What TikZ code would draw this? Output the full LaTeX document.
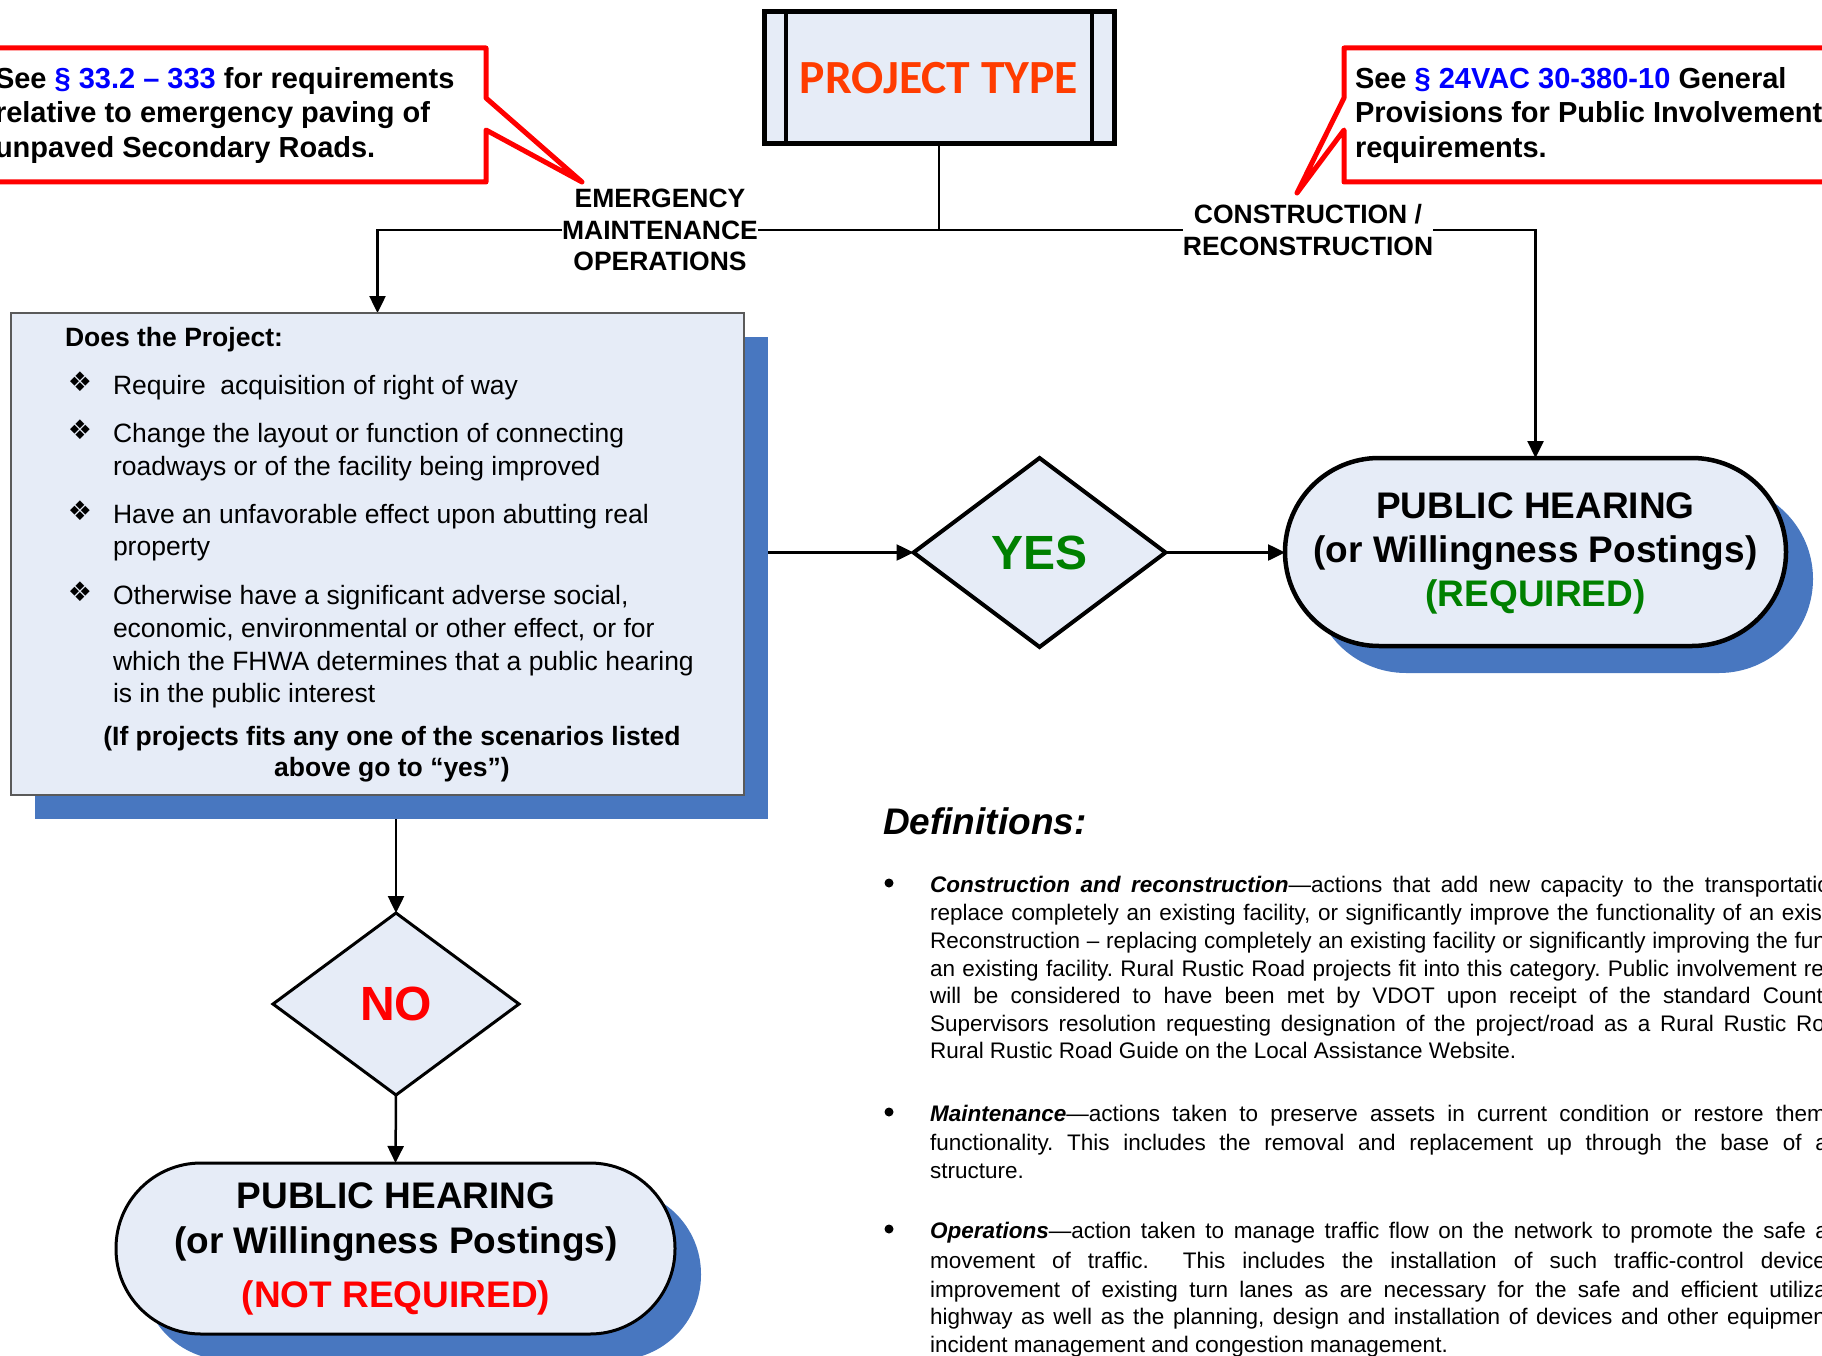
\documentclass[tikz,border=0pt]{standalone}
\usepackage{fontspec}
\setmainfont{Liberation Sans}
\newfontfamily\calib{Carlito}
\newfontfamily\djv{DejaVu Sans}
\usetikzlibrary{shapes.geometric,arrows.meta,shadows,backgrounds}
\definecolor{lblue}{RGB}{230,236,247}
\definecolor{shadowblue}{RGB}{72,119,192}
\definecolor{calred}{RGB}{255,0,0}
\definecolor{linkblue}{RGB}{0,0,255}
\definecolor{yesgreen}{RGB}{0,128,0}
\definecolor{nored}{RGB}{255,0,0}
\definecolor{ptred}{RGB}{255,60,0}
\definecolor{boxgray}{RGB}{90,90,90}
\newcommand{\myjust}[2]{\makebox[#1][s]{#2}}
\frenchspacing
\begin{document}
\frenchspacing
\begin{tikzpicture}[x=1pt,y=-1pt,
  every node/.style={inner sep=0pt,outer sep=0pt},
  boxtxt/.style={anchor=base west,font=\fontsize{26.5}{31.5}\selectfont},
  bullt/.style={anchor=center,font=\djv\fontsize{27}{30}\selectfont},
  deftxt/.style={anchor=base west,font=\fontsize{22.5}{27.5}\selectfont},
  defbul/.style={fill=black,circle,minimum size=9pt},
  callt/.style={anchor=base west,font=\bfseries\fontsize{29}{34}\selectfont},
  bigt/.style={anchor=base,font=\bfseries\fontsize{37}{44}\selectfont},
  lbl/.style={fill=white,align=center,font=\bfseries\fontsize{26.5}{31.5}\selectfont},
  conn/.style={line width=2.5pt,draw=black},
  arr/.style={conn,-{Triangle[length=17pt,width=16pt]}},
  callout/.style={draw=calred,line width=5pt,fill=white,line join=round},
  dia/.style={diamond,draw,fill=lblue,font=\bfseries\fontsize{48}{50}\selectfont},
  term/.style={rectangle,draw,fill=lblue},
  ptbox/.style={rectangle,draw,line width=5pt,fill=lblue,text=ptred,
    font=\calib\bfseries\fontsize{47.6}{50}\selectfont},
  qbox/.style={rectangle,draw=boxgray,line width=1.5pt,fill=lblue}
]
\useasboundingbox (0,0) rectangle (1822,1356);

% ---- top box ----
\node[ptbox,minimum width=350pt,minimum height=132pt] (ptype) at (939,78) {PROJECT TYPE};
\draw[line width=4pt] ([xshift=22pt]ptype.north west) -- ([xshift=22pt]ptype.south west);
\draw[line width=4pt] ([xshift=-22pt]ptype.north east) -- ([xshift=-22pt]ptype.south east);

% ---- callouts ----
\draw[callout] (-10,48) -- (486,48) -- (486,98) -- (582,182) -- (486,130) -- (486,182) -- (-10,182) -- cycle;
\draw[callout] (1344,48) -- (1835,48) -- (1835,182) -- (1344,182) -- (1344,130) -- (1297,193) -- (1344,98) -- cycle;
\node[callt] (lc1) at (-5,89) {See \textcolor{linkblue}{§ 33.2 – 333} for requirements};
\node[callt] (lc2) at (-5,123) {relative to emergency paving of};
\node[callt] (lc3) at (-5,158) {unpaved Secondary Roads.};
\node[callt] (rc1) at (1355,89) {See \textcolor{linkblue}{§ 24VAC 30-380-10} General};
\node[callt] (rc2) at (1355,123) {Provisions for Public Involvement};
\node[callt] (rc3) at (1355,158) {requirements.};

% ---- question box ----
\node[qbox,minimum width=733pt,minimum height=482pt,
  drop shadow={shadow xshift=24pt,shadow yshift=-24pt,fill=shadowblue,opacity=1}] (dbox) at (377.5,554) {};
\node[boxtxt,font=\bfseries\fontsize{26.5}{31.5}\selectfont] (q0) at (65,346) {Does the Project:};
\node[bullt] (u1) at (80,382) {❖};
\node[bullt] (u2) at (80,430) {❖};
\node[bullt] (u3) at (80,511) {❖};
\node[bullt] (u4) at (80,592) {❖};
\node[boxtxt] (q1) at (113,394) {Require\ \ acquisition of right of way};
\node[boxtxt] (q2) at (113,442) {Change the layout or function of connecting};
\node[boxtxt] (q3) at (113,475) {roadways or of the facility being improved};
\node[boxtxt] (q4) at (113,523) {Have an unfavorable effect upon abutting real};
\node[boxtxt] (q5) at (113,555) {property};
\node[boxtxt] (q6) at (113,604) {Otherwise have a significant adverse social,};
\node[boxtxt] (q7) at (113,637) {economic, environmental or other effect, or for};
\node[boxtxt] (q8) at (113,670) {which the FHWA determines that a public hearing};
\node[boxtxt] (q9) at (113,702) {is in the public interest};
\node[anchor=base,font=\bfseries\fontsize{26.5}{31.5}\selectfont] (q10) at (392,745) {(If projects fits any one of the scenarios listed};
\node[anchor=base,font=\bfseries\fontsize{26.5}{31.5}\selectfont] (q11) at (392,776) {above go to “yes”)};

% ---- decisions ----
\node[dia,line width=4pt,minimum width=252pt,minimum height=189pt,text=yesgreen] (yes) at (1039.5,552.5) {YES};
\node[dia,line width=3pt,minimum width=246pt,minimum height=182pt,text=nored] (no) at (396,1004) {NO};

% ---- terminals ----
\node[term,line width=4.5pt,minimum width=501pt,minimum height=188pt,rounded corners=94pt,
  drop shadow={shadow xshift=27pt,shadow yshift=-27pt,fill=shadowblue,opacity=1}] (rterm) at (1535.5,552) {};
\node[bigt] (rt1) at (1535.5,518) {PUBLIC HEARING};
\node[bigt] (rt2) at (1535.5,562) {(or Willingness Postings)};
\node[bigt,text=yesgreen] (rt3) at (1535.5,606) {(REQUIRED)};

\node[term,line width=3pt,minimum width=559pt,minimum height=171pt,rounded corners=85pt,
  drop shadow={shadow xshift=26pt,shadow yshift=-26pt,fill=shadowblue,opacity=1}] (bterm) at (395.5,1248.5) {};
\node[bigt] (bt1) at (396,1208) {PUBLIC HEARING};
\node[bigt] (bt2) at (396,1253) {(or Willingness Postings)};
\node[bigt,text=nored] (bt3) at (396,1307) {(NOT REQUIRED)};

% ---- connectors ----
\coordinate (j) at (939,230);
\begin{pgfonlayer}{background}
\draw[conn] (ptype.south) -- (j);
\draw[arr] (j) -| (dbox.north);
\draw[arr] (j) -| (rterm.north);
\draw[arr] (dbox.east |- yes.west) -- (yes.west);
\draw[arr] (yes.east) -- (yes.east -| rterm.west);
\draw[arr] (no.north |- dbox.south) -- (no.north);
\draw[arr] (no.south) -- (bterm.north);
\end{pgfonlayer}
\node[lbl] (em) at (660,230) {EMERGENCY\\MAINTENANCE\\OPERATIONS};
\node[lbl] (cr) at (1308,230) {CONSTRUCTION /\\RECONSTRUCTION};

% ---- definitions ----
\node[anchor=base west,font=\bfseries\itshape\fontsize{37}{40}\selectfont] (defh) at (883,834) {Definitions:};
\node[defbul] (db1) at (889,883) {};
\node[defbul] (db2) at (889,1112) {};
\node[defbul] (db3) at (889,1229) {};
\node[deftxt] (d1) at (930,892) {\myjust{900pt}{\textbf{\textit{Construction and reconstruction}}—actions that add new capacity to the transportatio}};
\node[deftxt] (d2) at (930,920) {\myjust{892pt}{replace completely an existing facility, or significantly improve the functionality of an exis}};
\node[deftxt] (d3) at (930,948) {\myjust{896pt}{Reconstruction – replacing completely an existing facility or significantly improving the fun}};
\node[deftxt] (d4) at (930,976) {\myjust{894pt}{an existing facility. Rural Rustic Road projects fit into this category. Public involvement re}};
\node[deftxt] (d5) at (930,1003) {\myjust{893pt}{will be considered to have been met by VDOT upon receipt of the standard Count}};
\node[deftxt] (d6) at (930,1031) {\myjust{895pt}{Supervisors resolution requesting designation of the project/road as a Rural Rustic Ro}};
\node[deftxt] (d7) at (930,1058) {Rural Rustic Road Guide on the Local Assistance Website.};
\node[deftxt] (d8) at (930,1121) {\myjust{896pt}{\textbf{\textit{Maintenance}}—actions taken to preserve assets in current condition or restore them}};
\node[deftxt] (d9) at (930,1150) {\myjust{898pt}{functionality. This includes the removal and replacement up through the base of a}};
\node[deftxt] (d10) at (930,1178) {structure.};
\node[deftxt] (d11) at (930,1238) {\myjust{898pt}{\textbf{\textit{Operations}}—action taken to manage traffic flow on the network to promote the safe a}};
\node[deftxt] (d12) at (930,1268) {\myjust{896pt}{movement of traffic.\ \ This includes the installation of such traffic-control device}};
\node[deftxt] (d13) at (930,1297) {\myjust{897pt}{improvement of existing turn lanes as are necessary for the safe and efficient utiliza}};
\node[deftxt] (d14) at (930,1324) {\myjust{896pt}{highway as well as the planning, design and installation of devices and other equipmen}};
\node[deftxt] (d15) at (930,1352) {incident management and congestion management.};
\end{tikzpicture}
\end{document}
